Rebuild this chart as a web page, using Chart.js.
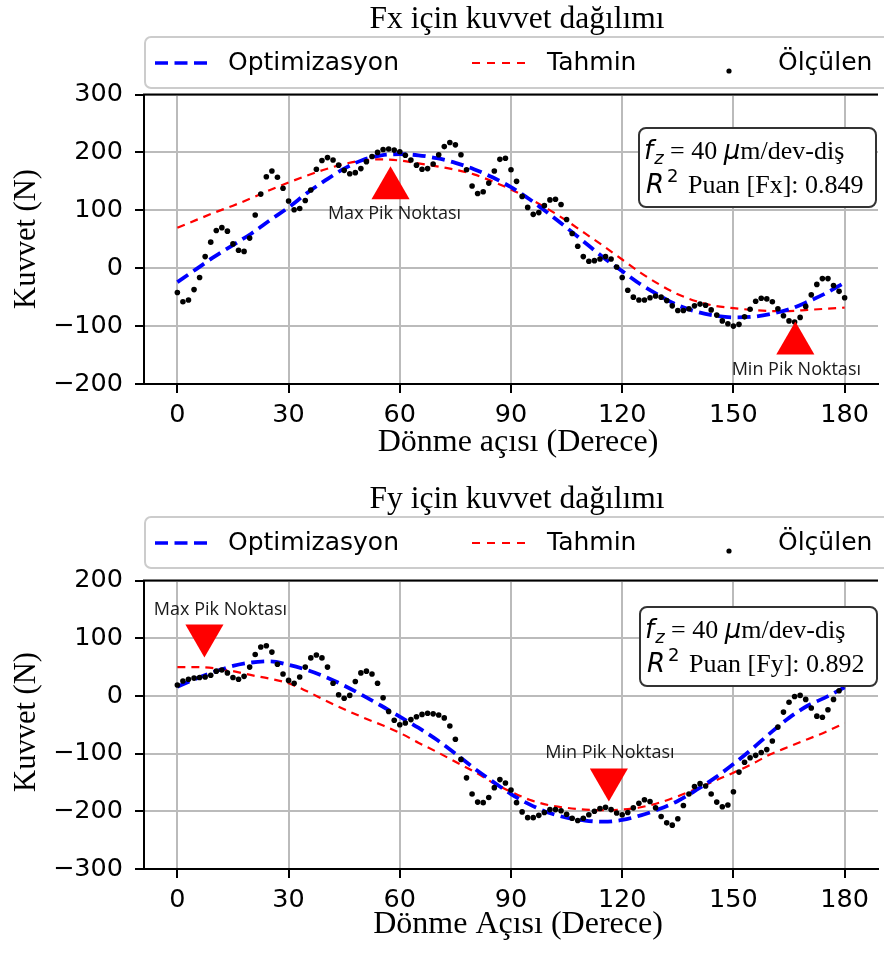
<!DOCTYPE html>
<html>
<head>
<meta charset="utf-8">
<script src="https://cdn.jsdelivr.net/npm/chart.js@4.4.1/dist/chart.umd.min.js"></script>
<style>
  html, body { margin: 0; padding: 0; background: #fff; overflow: hidden; }
  #wrap { position: relative; width: 884px; height: 956px; overflow: hidden; background: #fff; }
  .panel { position: absolute; left: 0; width: 900px; }
  #fx-panel { top: 0; height: 480px; }
  #fy-panel { top: 480px; height: 476px; }
</style>
</head>
<body>
<div id="wrap">
  <div class="panel" id="fx-panel"><canvas id="fx-chart" width="900" height="480"></canvas></div>
  <div class="panel" id="fy-panel"><canvas id="fy-chart" width="900" height="476"></canvas></div>
</div>
<script>
// --- DATA ---
// measured samples (every 1.5 degrees)
const measAngles = [
  0, 1.5, 3, 4.5, 6, 7.5, 9, 10.5, 12, 13.5,
  15, 16.5, 18, 19.5, 21, 22.5, 24, 25.5, 27, 28.5,
  30, 31.5, 33, 34.5, 36, 37.5, 39, 40.5, 42, 43.5,
  45, 46.5, 48, 49.5, 51, 52.5, 54, 55.5, 57, 58.5,
  60, 61.5, 63, 64.5, 66, 67.5, 69, 70.5, 72, 73.5,
  75, 76.5, 78, 79.5, 81, 82.5, 84, 85.5, 87, 88.5,
  90, 91.5, 93, 94.5, 96, 97.5, 99, 100.5, 102, 103.5,
  105, 106.5, 108, 109.5, 111, 112.5, 114, 115.5, 117, 118.5,
  120, 121.5, 123, 124.5, 126, 127.5, 129, 130.5, 132, 133.5,
  135, 136.5, 138, 139.5, 141, 142.5, 144, 145.5, 147, 148.5,
  150, 151.5, 153, 154.5, 156, 157.5, 159, 160.5, 162, 163.5,
  165, 166.5, 168, 169.5, 171, 172.5, 174, 175.5, 177, 178.5,
  180
];
const fxMeasured = [
  -42, -58, -55, -37, -16, 20, 45, 65, 70, 64,
  42, 31, 29, 52, 92, 128, 158, 168, 157, 138,
  116, 101, 103, 117, 135, 171, 186, 191, 187, 178,
  169, 163, 165, 172, 184, 193, 200, 205, 206, 204,
  201, 195, 187, 178, 171, 172, 180, 196, 210, 217,
  213, 196, 170, 142, 129, 132, 147, 168, 188, 190,
  170, 150, 124, 105, 93, 96, 108, 118, 119, 110,
  84, 60, 38, 20, 12, 13, 16, 20, 16, 2,
  -16, -38, -50, -55, -55, -51, -48, -50, -56, -65,
  -73, -73, -70, -65, -62, -64, -72, -81, -91, -96,
  -100, -97, -84, -71, -57, -52, -53, -58, -70, -82,
  -91, -93, -85, -66, -46, -28, -18, -18, -30, -40,
  -51
];
const fyMeasured = [
  19, 26, 29, 31, 32, 33, 36, 43, 45, 40,
  32, 29, 34, 50, 72, 85, 87, 76, 55, 38,
  27, 22, 33, 50, 66, 71, 66, 50, 22, 2,
  -4, 1, 25, 40, 43, 38, 22, -3, -27, -42,
  -50, -47, -41, -36, -32, -30, -31, -33, -38, -52,
  -75, -110, -142, -170, -184, -185, -176, -159, -145, -151,
  -163, -185, -201, -211, -211, -207, -202, -197, -197, -199,
  -205, -212, -216, -212, -206, -200, -195, -193, -197, -203,
  -206, -202, -194, -186, -180, -183, -194, -209, -220, -224,
  -213, -190, -170, -157, -152, -156, -170, -184, -192, -189,
  -166, -132, -115, -107, -103, -98, -93, -78, -54, -28,
  -11, -1, 1, -6, -21, -35, -37, -24, -6, 9,
  20
];

// fitted curves (every 5 degrees)
const fitAngles = [0, 5, 10, 15, 20, 25, 30, 35, 40, 45, 50, 55, 60, 65, 70, 75, 80, 85, 90,
  95, 100, 105, 110, 115, 120, 125, 130, 135, 140, 145, 150, 155, 160, 165, 170, 175, 180];
const fxOptimizasyon = [-24, -2, 20, 40, 60, 83, 105, 130, 152, 172, 187, 195, 197, 195, 190, 182, 171, 157, 140,
  119, 95, 70, 44, 18, -5, -28, -47, -64, -75, -82, -85, -84, -79, -71, -58, -43, -25];
const fxTahmin = [70, 83, 96, 108, 121, 135, 148, 160, 171, 180, 186, 188, 186, 181, 176, 170, 162, 150, 136,
  120, 102, 82, 60, 38, 15, -8, -28, -45, -57, -65, -69, -72, -74, -74, -72, -70, -68];
const fyOptimizasyon = [16, 30, 42, 52, 58, 60, 54, 45, 33, 18, 1, -17, -36, -55, -76, -100, -125, -148, -170,
  -188, -202, -211, -216, -218, -215, -207, -196, -182, -163, -142, -118, -92, -64, -38, -17, -2, 15];
const fyTahmin = [50, 50, 48, 43, 36, 30, 22, 8, -8, -23, -37, -50, -64, -81, -97, -114, -131, -150, -166,
  -180, -189, -194, -197, -198, -197, -193, -185, -174, -161, -147, -133, -118, -101, -88, -75, -62, -47];

// peak markers
const fxPeakAngles = [57.5, 166.7];
const fxPeakValues = [138, -130];
const fyPeakAngles = [7.3, 116.4];
const fyPeakValues = [105, -145];
const peakLabels = ['Max Pik Noktası', 'Min Pik Noktası'];

// axes
const xTicks = [0, 30, 60, 90, 120, 150, 180];
const fxYTicks = [-200, -100, 0, 100, 200, 300];
const fyYTicks = [-300, -200, -100, 0, 100, 200];
const seriesNames = ['Optimizasyon', 'Tahmin', 'Ölçülen'];

// --- DRAWING HELPERS ---
const SERIF = '"Liberation Serif", "Times New Roman", serif';
const SANS = '"DejaVu Sans", sans-serif';
const BLUE = '#0000ff';
const RED = '#ff0000';

function roundRect(ctx, x, y, w, h, r) {
  ctx.beginPath();
  ctx.moveTo(x + r, y);
  ctx.arcTo(x + w, y, x + w, y + h, r);
  ctx.arcTo(x + w, y + h, x, y + h, r);
  ctx.arcTo(x, y + h, x, y, r);
  ctx.arcTo(x, y, x + w, y, r);
  ctx.closePath();
}

// draws text made of several font runs (serif text with math italic bits)
function drawRuns(ctx, runs, x, y) {
  runs.forEach(run => {
    ctx.font = run.font;
    ctx.fillText(run.text, x, y + (run.dy || 0));
    x += ctx.measureText(run.text).width + (run.gap || 0);
  });
}

function makeDecor(c) {
  return {
    id: 'decor',
    afterDatasetsDraw(chart) {
      const ctx = chart.ctx;
      ctx.save();
      // peak labels
      const peaks = chart.getDatasetMeta(0).data;
      ctx.fillStyle = '#1a1a1a';
      ctx.font = '18px "Open Sans", sans-serif';
      ctx.textAlign = 'center';
      ctx.textBaseline = 'middle';
      peaks.forEach((pt, i) => {
        ctx.fillText(peakLabels[i], pt.x + c.labelOffsets[i][0], pt.y + c.labelOffsets[i][1]);
      });

      // R^2 box
      roundRect(ctx, c.box.x, c.box.y, 237, 79, 7);
      ctx.fillStyle = '#ffffff';
      ctx.fill();
      ctx.strokeStyle = '#333333';
      ctx.lineWidth = 2;
      ctx.stroke();
      ctx.fillStyle = '#000';
      ctx.textAlign = 'left';
      ctx.textBaseline = 'alphabetic';
      drawRuns(ctx, [
        { text: 'f', font: 'italic 26px ' + SANS, gap: 1 },
        { text: 'z', font: 'italic 18px ' + SANS, dy: 5 },
        { text: ' = 40 ', font: '26px ' + SERIF },
        { text: 'μ', font: 'italic 26px ' + SANS },
        { text: 'm/dev-diş', font: '26px ' + SERIF }
      ], c.box.x + 5, c.box.y + 31);
      drawRuns(ctx, [
        { text: 'R', font: 'italic 26px ' + SANS, gap: 3 },
        { text: '2', font: '18px ' + SANS, dy: -11, gap: 3 },
        { text: ' ' + c.r2Text, font: '26px ' + SERIF }
      ], c.box.x + 7, c.box.y + 65);
      ctx.restore();
    },
    afterDraw(chart) {
      const ctx = chart.ctx;
      const area = chart.chartArea;
      ctx.save();
      // top spine
      ctx.strokeStyle = '#000';
      ctx.lineWidth = 2;
      ctx.beginPath();
      ctx.moveTo(area.left - 1, area.top);
      ctx.lineTo(area.right, area.top);
      ctx.stroke();

      // title
      ctx.fillStyle = '#000';
      ctx.textAlign = 'center';
      ctx.textBaseline = 'alphabetic';
      ctx.font = '31.5px ' + SERIF;
      ctx.fillText(c.title, 517, 28);
      // x label
      ctx.font = '32px ' + SERIF;
      ctx.fillText(c.xLabel, 518, c.xLabelY);
      // y label
      ctx.font = '30.5px ' + SERIF;
      ctx.save();
      ctx.translate(35, c.yLabelY);
      ctx.rotate(-Math.PI / 2);
      ctx.fillText('Kuvvet (N)', 0, 0);
      ctx.restore();

      // legend
      roundRect(ctx, 145, 37, 770, 51, 6);
      ctx.fillStyle = 'rgba(255,255,255,0.9)';
      ctx.fill();
      ctx.strokeStyle = '#cccccc';
      ctx.lineWidth = 2;
      ctx.stroke();

      ctx.lineCap = 'butt';
      ctx.strokeStyle = BLUE;
      ctx.lineWidth = 3.6;
      ctx.setLineDash([13, 6.5]);
      ctx.beginPath(); ctx.moveTo(155, 63); ctx.lineTo(210, 63); ctx.stroke();
      ctx.strokeStyle = RED;
      ctx.lineWidth = 2.2;
      ctx.setLineDash([8, 7]);
      ctx.beginPath(); ctx.moveTo(472, 63); ctx.lineTo(525, 63); ctx.stroke();
      ctx.setLineDash([]);
      ctx.fillStyle = '#000';
      ctx.beginPath(); ctx.arc(729, 71, 2.6, 0, Math.PI * 2); ctx.fill();

      ctx.font = '25px ' + SANS;
      ctx.textAlign = 'left';
      ctx.textBaseline = 'middle';
      ctx.fillText(seriesNames[0], 228, 63);
      ctx.fillText(seriesNames[1], 547, 63);
      ctx.fillText(seriesNames[2], 778, 63);
      ctx.restore();
    }
  };
}

function axisOptions(min, max, ticks, fit) {
  return {
    type: 'linear',
    min: min,
    max: max,
    afterBuildTicks: axis => { axis.ticks = ticks.map(v => ({ value: v })); },
    afterFit: fit,
    ticks: {
      font: { family: 'DejaVu Sans', size: 25.5 },
      color: '#000',
      maxRotation: 0,
      autoSkip: false,
      callback: v => String(v).replace('-', '\u2212')
    },
    grid: { color: '#bbbbbb', lineWidth: 2, tickColor: '#000', tickWidth: 2, tickLength: 9 },
    border: { color: '#000', width: 2 }
  };
}

function buildChart(canvasId, c) {
  const ctx = document.getElementById(canvasId).getContext('2d');
  const xAxis = axisOptions(-9, 189, xTicks, s => { s.height = c.xAxisHeight; });
  xAxis.ticks.padding = 7;
  const yAxis = axisOptions(c.yMin, c.yMax, c.yTicks, s => { s.width = 144; });
  yAxis.ticks.padding = 12;

  return new Chart(ctx, {
    type: 'scatter',
    data: {
      datasets: [
        {
          label: 'Pik',
          data: c.peakAngles.map((x, i) => ({ x: x, y: c.peakValues[i] })),
          pointStyle: 'triangle',
          rotation: c.peakRotation,
          pointRadius: 22,
          backgroundColor: RED,
          borderColor: RED,
          borderWidth: 0
        },
        {
          label: seriesNames[2],
          data: measAngles.map((x, i) => ({ x: x, y: c.measured[i] })),
          pointRadius: 2.8,
          backgroundColor: '#000',
          borderWidth: 0
        },
        {
          label: seriesNames[0],
          data: fitAngles.map((x, i) => ({ x: x, y: c.optimizasyon[i] })),
          showLine: true,
          borderColor: BLUE,
          borderWidth: 3.8,
          borderDash: [13, 6.5],
          cubicInterpolationMode: 'monotone',
          pointRadius: 0,
          fill: false
        },
        {
          label: seriesNames[1],
          data: fitAngles.map((x, i) => ({ x: x, y: c.tahmin[i] })),
          showLine: true,
          borderColor: RED,
          borderWidth: 2.2,
          borderDash: [8, 6],
          cubicInterpolationMode: 'monotone',
          pointRadius: 0,
          fill: false
        }
      ]
    },
    options: {
      responsive: false,
      animation: false,
      layout: { padding: { top: c.plotTop, right: 10, left: 0, bottom: 0 } },
      plugins: { legend: { display: false }, tooltip: { enabled: false }, title: { display: false } },
      scales: { x: xAxis, y: yAxis }
    },
    plugins: [makeDecor(c)]
  });
}

buildChart('fx-chart', {
  title: 'Fx için kuvvet dağılımı',
  xLabel: 'Dönme açısı (Derece)',
  r2Text: 'Puan [Fx]: 0.849',
  measured: fxMeasured,
  optimizasyon: fxOptimizasyon,
  tahmin: fxTahmin,
  peakAngles: fxPeakAngles,
  peakValues: fxPeakValues,
  peakRotation: 0,
  labelOffsets: [[4, 26], [1, 26]],
  yMin: -200, yMax: 300, yTicks: fxYTicks,
  plotTop: 94.5, xAxisHeight: 96,
  xLabelY: 451, yLabelY: 239,
  box: { x: 639, y: 128 }
});

buildChart('fy-chart', {
  title: 'Fy için kuvvet dağılımı',
  xLabel: 'Dönme Açısı (Derece)',
  r2Text: 'Puan [Fy]: 0.892',
  measured: fyMeasured,
  optimizasyon: fyOptimizasyon,
  tahmin: fyTahmin,
  peakAngles: fyPeakAngles,
  peakValues: fyPeakValues,
  peakRotation: 180,
  labelOffsets: [[16, -26], [1, -27]],
  yMin: -300, yMax: 200, yTicks: fyYTicks,
  plotTop: 100.6, xAxisHeight: 87,
  xLabelY: 453, yLabelY: 242,
  box: { x: 640, y: 127 }
});
</script>
</body>
</html>
